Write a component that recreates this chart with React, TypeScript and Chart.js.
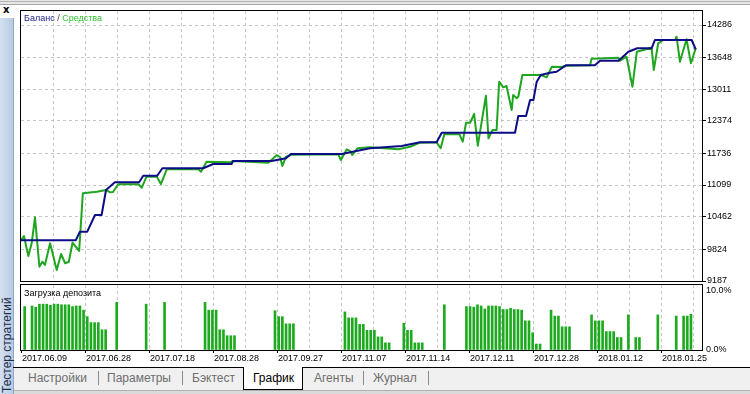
import React, { useEffect, useRef } from "react";
import { Chart, registerables } from "chart.js";

Chart.register(...registerables);

const FONT = '"Liberation Sans", Arial, sans-serif';

// ---- data ----
const X_MAX = 185; // deal sequence span visible on the axis
const DATE_LABELS = [
  "2017.06.09", "2017.06.28", "2017.07.18", "2017.08.28", "2017.09.27", "2017.11.07",
  "2017.11.14", "2017.12.11", "2017.12.28", "2018.01.12", "2018.01.25",
];
const Y_TICKS = [9187, 9824, 10462, 11099, 11736, 12374, 13011, 13648, 14286];
const LOAD_TICKS = [0, 10];

const BALANCE_X = [0, 14.9, 16.0, 18.0, 20.1, 21.9, 23.1, 25.5, 32.1, 33.2, 37.0, 38.4, 49.5, 52.2, 57.2, 57.6, 68.1, 72.0, 73.3, 87.1, 94.8, 103.4, 108.4, 112.9, 114.3, 134.2, 135.1, 137.2, 138.3, 139.2, 140.1, 141.2, 143.7, 145.5, 148.0, 155.9, 157.3, 162.3, 165.0, 167.4, 171.3, 172.2, 182.2, 183.3];
const BALANCE_Y = [10000, 10000, 10169, 10169, 10502, 10502, 11000, 11153, 11153, 11284, 11284, 11432, 11432, 11517, 11517, 11577, 11577, 11631, 11717, 11717, 11830, 11876, 11950, 11950, 12141, 12141, 12473, 12473, 12792, 12792, 13157, 13290, 13336, 13356, 13483, 13483, 13575, 13575, 13754, 13822, 13822, 13987, 13987, 13802];

const EQUITY_X = [0, 0.8, 2.0, 2.9, 3.8, 5.0, 5.8, 6.5, 7.9, 9.7, 10.9, 12.0, 13.0, 14.0, 15.8, 16.8, 20.6, 23.1, 24.2, 25.0, 26.4, 31.9, 32.8, 34.1, 36.9, 38.0, 39.6, 48.2, 48.9, 50.4, 56.8, 57.6, 67.2, 69.5, 70.4, 71.0, 72.0, 73.5, 86.2, 86.9, 88.5, 89.4, 90.0, 91.4, 94.8, 102.5, 105.7, 108.4, 112.9, 114.0, 115.0, 119.1, 120.0, 120.9, 122.0, 123.1, 124.1, 126.3, 127.0, 128.1, 129.2, 129.9, 131.0, 131.9, 133.3, 133.7, 134.7, 135.1, 136.2, 141.2, 142.8, 144.2, 146.9, 148.0, 154.6, 155.0, 162.3, 162.7, 164.5, 166.1, 167.3, 171.3, 171.9, 173.1, 174.5, 177.7, 178.1, 179.0, 180.8, 182.0, 183.3];
const EQUITY_Y = [10000, 10083, 9685, 9938, 10456, 9472, 9571, 9506, 9938, 9406, 9725, 9540, 9571, 9950, 9785, 10934, 10966, 11000, 10954, 10960, 11113, 11113, 11045, 11264, 11264, 11119, 11412, 11412, 11364, 11563, 11551, 11577, 11543, 11697, 11651, 11478, 11663, 11700, 11710, 11597, 11810, 11776, 11697, 11830, 11850, 11810, 11862, 11942, 11950, 11830, 12109, 12109, 11962, 12340, 12340, 12513, 11882, 12878, 12029, 12195, 12195, 13157, 13045, 13071, 12593, 12892, 12826, 12858, 13290, 13290, 13244, 13455, 13449, 13475, 13483, 13615, 13635, 13575, 13655, 13057, 13754, 13834, 13390, 13921, 13987, 13987, 14053, 13555, 14001, 13523, 13822];

const LOAD_X = [1, 3, 4, 5, 6, 7, 8, 9, 10, 11, 12, 13, 14, 15, 16, 17, 18, 19, 20, 21, 22, 23, 26, 34, 39, 50, 51, 52, 53, 54, 55, 56, 57, 58, 69, 70, 71, 72, 73, 74, 88, 89, 90, 91, 92, 93, 94, 95, 96, 97, 98, 99, 100, 104, 105, 106, 107, 108, 109, 115, 121, 122, 123, 124, 125, 126, 127, 128, 129, 130, 131, 132, 133, 134, 135, 136, 137, 138, 139, 140, 141, 144, 145, 146, 147, 148, 149, 155, 156, 157, 158, 159, 160, 161, 162, 163, 165, 167, 168, 173, 178, 180, 181, 182];
const LOAD_Y = [7.3, 7.4, 7.2, 7.7, 7.7, 7.7, 7.5, 7.7, 7.7, 7.6, 7.6, 7.6, 7.3, 7.4, 7.4, 6.7, 5.6, 4.6, 4.6, 4.6, 3.4, 3.4, 8.0, 7.7, 8.0, 8.0, 6.7, 6.7, 6.7, 3.4, 3.4, 2.4, 2.4, 2.4, 6.6, 5.6, 5.6, 4.4, 4.4, 4.4, 6.4, 5.4, 5.4, 5.4, 4.3, 4.3, 3.3, 3.3, 3.3, 2.2, 2.2, 1.2, 1.2, 4.5, 3.3, 3.3, 1.2, 1.2, 1.2, 7.6, 7.3, 7.3, 7.2, 7.6, 7.4, 6.9, 7.4, 7.4, 7.4, 7.3, 6.8, 6.8, 7.0, 6.8, 6.8, 6.7, 4.9, 4.9, 2.9, 1.0, 1.0, 6.7, 5.7, 5.7, 3.9, 3.9, 3.9, 5.9, 4.9, 4.9, 4.9, 3.1, 3.1, 3.1, 2.1, 2.1, 5.9, 2.1, 2.1, 5.9, 5.7, 5.7, 5.7, 6.0];

// ---- styling ----
const BALANCE_COLOR = "#0c0c86";
const EQUITY_COLOR = "#1fa51f";
const BAR_COLOR = "#1eaa1e";
const GRID_COLOR = "#c4c4c4";
const GRID_COUNT = 22;
const GRID_STEP = (X_MAX * 32) / 681;
const GRID_VALUES = Array.from({ length: GRID_COUNT }, (_, k) => k * GRID_STEP);

function framePlugin(texts: { parts: { t: string; c: string }[]; x: number; y: number }) {
  return {
    id: "frame",
    afterDraw(chart: any) {
      const { ctx, chartArea: a } = chart;
      ctx.save();
      ctx.strokeStyle = "#000";
      ctx.lineWidth = 1;
      ctx.setLineDash([]);
      ctx.strokeRect(a.left - 0.5, a.top - 0.5, a.right - a.left + 1, a.bottom - a.top + 1);
      ctx.font = `9px ${FONT}`;
      ctx.textBaseline = "middle";
      ctx.textAlign = "left";
      let x = texts.x;
      for (const p of texts.parts) {
        ctx.fillStyle = p.c;
        ctx.fillText(p.t, x, texts.y);
        x += ctx.measureText(p.t).width;
      }
      ctx.restore();
    },
  };
}

export default function App() {
  const mainRef = useRef<HTMLCanvasElement>(null);
  const loadRef = useRef<HTMLCanvasElement>(null);

  useEffect(() => {
    Chart.defaults.font.family = FONT;
    Chart.defaults.font.size = 9;
    const gridColor = (c: any) => (c.index === 0 ? "rgba(0,0,0,0)" : GRID_COLOR);

    const main = new Chart(mainRef.current!, {
      type: "line",
      data: {
        datasets: [
          {
            label: "Баланс",
            data: BALANCE_X.map((x, i) => ({ x, y: BALANCE_Y[i] })),
            borderColor: BALANCE_COLOR,
            borderWidth: 2,
            pointRadius: 0,
            tension: 0,
            borderJoinStyle: "round",
          },
          {
            label: "Средства",
            data: EQUITY_X.map((x, i) => ({ x, y: EQUITY_Y[i] })),
            borderColor: EQUITY_COLOR,
            borderWidth: 2,
            pointRadius: 0,
            tension: 0,
            borderJoinStyle: "round",
          },
        ],
      },
      options: {
        responsive: false,
        animation: false,
        devicePixelRatio: 1,
        events: [],
        layout: { padding: { left: 7, top: 7, right: 0, bottom: 3 } },
        plugins: { legend: { display: false }, tooltip: { enabled: false } },
        scales: {
          x: {
            type: "linear",
            min: 0,
            max: X_MAX,
            afterBuildTicks: (s: any) => {
              s.ticks = GRID_VALUES.map((v) => ({ value: v }));
            },
            ticks: { display: false },
            grid: { color: gridColor, drawTicks: false },
            border: { display: false, dash: [3, 3] },
            afterFit: (s: any) => {
              s.height = 0;
              s.paddingLeft = 0;
              s.paddingRight = 0;
            },
          },
          y: {
            type: "linear",
            position: "right",
            min: 9187,
            max: 14565,
            afterBuildTicks: (s: any) => {
              s.ticks = Y_TICKS.map((v) => ({ value: v }));
            },
            ticks: { color: "#000", padding: 1, callback: (v: any) => String(v), font: { size: 9 } },
            grid: { color: gridColor, tickColor: "#000", tickLength: 4 },
            border: { display: false, dash: [3, 3] },
            afterFit: (s: any) => {
              s.width = 48;
              s.paddingTop = 0;
              s.paddingBottom = 0;
            },
          },
        },
      } as any,
      plugins: [
        framePlugin({
          x: 10,
          y: 14.5,
          parts: [
            { t: "Баланс", c: "#1a1a8c" },
            { t: " / ", c: "#404040" },
            { t: "Средства", c: "#2cbf2c" },
          ],
        }),
      ],
    });

    const load = new Chart(loadRef.current!, {
      type: "bar",
      data: {
        datasets: [
          {
            label: "Загрузка депозита",
            data: LOAD_X.map((x, i) => ({ x, y: LOAD_Y[i] })),
            backgroundColor: BAR_COLOR,
            borderWidth: 0,
            barThickness: 2,
          },
        ],
      },
      options: {
        responsive: false,
        animation: false,
        devicePixelRatio: 1,
        events: [],
        layout: { padding: { left: 7, top: 1, right: 0, bottom: 0 } },
        plugins: { legend: { display: false }, tooltip: { enabled: false } },
        scales: {
          x: {
            type: "linear",
            min: 0,
            max: X_MAX,
            offset: false,
            afterBuildTicks: (s: any) => {
              s.ticks = GRID_VALUES.map((v) => ({ value: v }));
            },
            ticks: {
              autoSkip: false,
              maxRotation: 0,
              minRotation: 0,
              align: "start",
              labelOffset: 1,
              padding: 0,
              color: "#000",
              font: { size: 9 },
              callback: (_v: any, i: number) => (i % 2 === 0 ? DATE_LABELS[i / 2] ?? "" : ""),
            },
            grid: {
              offset: false,
              color: gridColor,
              tickColor: (c: any) => (c.index % 2 === 0 ? "#000" : "rgba(0,0,0,0)"),
              tickLength: 3,
            },
            border: { display: false, dash: [3, 3] },
            afterFit: (s: any) => {
              s.height = 17;
              s.paddingLeft = 0;
              s.paddingRight = 0;
            },
          },
          y: {
            type: "linear",
            position: "right",
            min: 0,
            max: 10.92,
            afterBuildTicks: (s: any) => {
              s.ticks = LOAD_TICKS.map((v) => ({ value: v }));
            },
            ticks: { color: "#000", padding: 4, callback: (v: any) => Number(v).toFixed(1) + "%", font: { size: 9 } },
            grid: { drawOnChartArea: false, drawTicks: false },
            border: { display: false },
            afterFit: (s: any) => {
              s.width = 48;
              s.paddingTop = 0;
              s.paddingBottom = 0;
            },
          },
        },
      } as any,
      plugins: [framePlugin({ x: 10, y: 9.3, parts: [{ t: "Загрузка депозита", c: "#000" }] })],
    });

    return () => {
      main.destroy();
      load.destroy();
    };
  }, []);

  const tabFont: React.CSSProperties = {
    position: "absolute",
    top: 371,
    fontFamily: FONT,
    fontSize: 12,
    lineHeight: "14px",
    whiteSpace: "nowrap",
    color: "#6e6e6e",
  };
  const tabs = [
    { t: "Настройки", x: 28 },
    { t: "Параметры", x: 107 },
    { t: "Бэктест", x: 192 },
    { t: "Агенты", x: 314 },
    { t: "Журнал", x: 373 },
  ];
  const seps = [98, 182, 363, 428];

  return (
    <div
      style={{
        position: "fixed",
        left: 0,
        top: 0,
        width: 750,
        height: 394,
        background: "#fff",
        overflow: "hidden",
      }}
    >
      {/* top band */}
      <div style={{ position: "absolute", left: 0, top: 0, width: 750, height: 5, background: "#e6e6e6" }} />
      <div style={{ position: "absolute", left: 0, top: 1, width: 750, height: 1, background: "#b4b4b4" }} />
      <div style={{ position: "absolute", left: 0, top: 4, width: 750, height: 1, background: "#a8a8a8" }} />
      {/* close icon */}
      <div
        style={{
          position: "absolute",
          left: 3,
          top: 4,
          fontFamily: '"DejaVu Sans", sans-serif',
          fontWeight: "bold",
          fontSize: 10,
          lineHeight: "12px",
          color: "#000",
        }}
      >
        x
      </div>
      {/* left vertical tab strip */}
      <div
        style={{
          position: "absolute",
          left: 0,
          top: 18,
          width: 13,
          height: 376,
          background: "linear-gradient(to right, #d3e0f0, #b8cbe4)",
          borderRight: "1px solid #8fa6c4",
        }}
      />
      <div
        style={{
          position: "absolute",
          left: 0,
          top: 393,
          width: 110,
          height: 14,
          transformOrigin: "top left",
          transform: "rotate(-90deg)",
          fontFamily: FONT,
          fontSize: 12,
          lineHeight: "14px",
          color: "#1e2f4a",
          whiteSpace: "nowrap",
        }}
      >
        Тестер стратегий
      </div>

      {/* charts */}
      <canvas
        ref={mainRef}
        width={736}
        height={280}
        style={{ position: "absolute", left: 14, top: 4, width: 736, height: 280 }}
      />
      <canvas
        ref={loadRef}
        width={736}
        height={83}
        style={{ position: "absolute", left: 14, top: 284, width: 736, height: 83 }}
      />

      {/* tab bar */}
      <div style={{ position: "absolute", left: 14, top: 368, width: 736, height: 22, background: "#f0f0f0" }} />
      <div style={{ position: "absolute", left: 13, top: 367, width: 737, height: 1, background: "#000" }} />
      <div style={{ position: "absolute", left: 14, top: 390, width: 736, height: 1, background: "#b0b0b0" }} />
      <div style={{ position: "absolute", left: 14, top: 391, width: 736, height: 3, background: "#dadada" }} />
      <div
        style={{
          position: "absolute",
          left: 243,
          top: 367,
          width: 58,
          height: 22,
          background: "#fff",
          borderLeft: "1px solid #000",
          borderRight: "1px solid #000",
          borderBottom: "1px solid #000",
        }}
      />
      <div style={{ ...tabFont, left: 253, color: "#000" }}>График</div>
      {tabs.map((t) => (
        <div key={t.t} style={{ ...tabFont, left: t.x }}>
          {t.t}
        </div>
      ))}
      {seps.map((x) => (
        <div key={x} style={{ position: "absolute", left: x, top: 371, width: 1, height: 14, background: "#8a8a8a" }} />
      ))}
    </div>
  );
}
